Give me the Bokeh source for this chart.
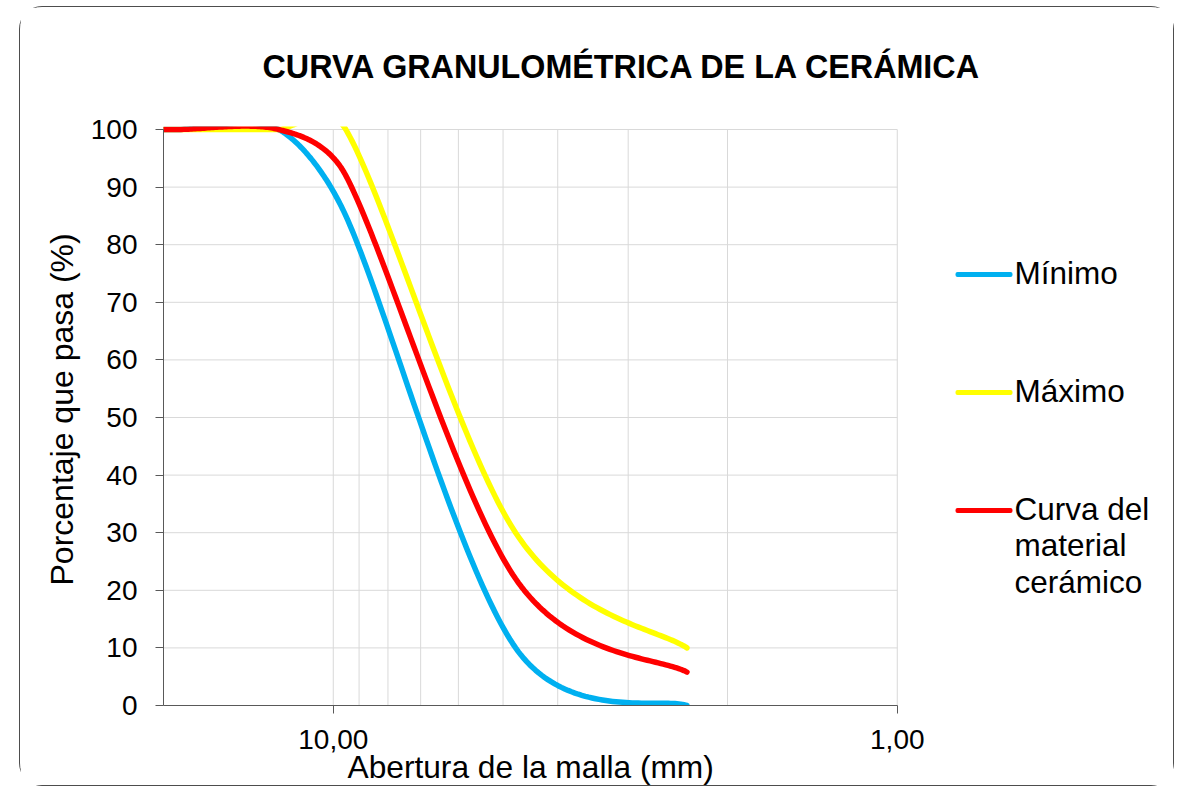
import numpy as np
from bokeh.plotting import figure
from bokeh.models import (Range1d, FixedTicker, CustomJSTickFormatter, Label,
                          BoxAnnotation, Title)
from bokeh.embed import file_html
from bokeh.resources import INLINE

# Sieve openings (mm) and cumulative percentage passing
sieve_mm = [25.0, 19.0, 12.5, 9.5, 4.75, 2.36]
minimo = [100, 100, 100, 85, 10, 0]
maximo = [100, 100, 100, 100, 30, 10]
material = [100, 100, 100, 92, 22, 5.8]

series_names = ["Mínimo", "Máximo", "Curva del\nmaterial\ncerámico"]
series_colors = ["#00B0F0", "#FFFF00", "#FF0000"]

y_ticks = list(range(0, 101, 10))
x_major_ticks = [10, 1]
x_minor_ticks = [9, 8, 7, 6, 5, 4, 3, 2]

FONT = "Liberation Sans"

# canvas / frame geometry (pixels)
W, H = 1153, 778
LEFT, RIGHT, TOP, BOTTOM = 143, 0, 119, 80
PX_DECADE = 564.0          # pixels per decade on the x axis
PX_PCT = 5.76              # pixels per percentage point
X_MAX, Y_MIN, Y_MAX = 20.0, 0.0, 100.0
frame_w = W - LEFT - RIGHT
frame_h = H - TOP - BOTTOM
x_end = X_MAX / 10 ** (frame_w / PX_DECADE)
y_top = Y_MIN + frame_h / PX_PCT


def smooth(xs, ys, n=60):
    """Bezier smoothing of a polyline (spreadsheet style), built in pixel space."""
    P = np.column_stack([-np.log10(np.asarray(xs, float)) * PX_DECADE,
                         np.asarray(ys, float) * PX_PCT])
    m = len(P)
    out = []
    t = np.linspace(0, 1, n)[:, None]
    for i in range(m - 1):
        p0 = P[i - 1] if i > 0 else P[i]
        p1, p2 = P[i], P[i + 1]
        p3 = P[i + 2] if i + 2 < m else P[i + 1]
        d02 = np.hypot(*(p2 - p0))
        d12 = np.hypot(*(p2 - p1))
        d13 = np.hypot(*(p3 - p1))
        if d02 / 6 < d12 / 2 and d13 / 6 < d12 / 2:
            f1 = 1 / 6 if i > 0 else 1 / 3
            f2 = 1 / 6 if i + 2 < m else 1 / 3
        elif d02 / 6 >= d12 / 2 and d13 / 6 >= d12 / 2:
            f1 = d12 / 2 / d02
            f2 = d12 / 2 / d13
        elif d02 / 6 >= d12 / 2:
            f1 = d12 / 2 / d02
            f2 = d12 / 2 / d02
        else:
            f1 = d12 / 2 / d13
            f2 = d12 / 2 / d13
        c1 = p1 + (p2 - p0) * f1
        c2 = p2 - (p3 - p1) * f2
        seg = ((1 - t) ** 3) * p1 + 3 * ((1 - t) ** 2) * t * c1 \
            + 3 * (1 - t) * (t ** 2) * c2 + (t ** 3) * p2
        out.append(seg if i == 0 else seg[1:])
    out = np.vstack(out)
    return 10 ** (-out[:, 0] / PX_DECADE), out[:, 1] / PX_PCT


p = figure(width=W, height=H, x_axis_type="log",
           x_range=Range1d(X_MAX, x_end), y_range=Range1d(Y_MIN, y_top),
           output_backend="svg", toolbar_location=None,
           min_border_left=LEFT, min_border_right=RIGHT,
           min_border_top=TOP, min_border_bottom=BOTTOM)
p.margin = (7, 0, 0, 20)
p.styles = {"outline": "1.4px solid #4D4D4D", "border-radius": "22px"}
p.outline_line_color = None
p.background_fill_color = "white"
p.border_fill_color = "white"
p.xgrid.visible = False
p.ygrid.visible = False

# grid lines limited to the data window
GRID = "#D9D9D9"
vx = x_major_ticks + x_minor_ticks
p.segment(x0=vx, x1=vx, y0=[Y_MIN] * len(vx), y1=[Y_MAX] * len(vx),
          line_color=GRID, line_width=1)
hy = y_ticks[1:]
p.segment(x0=[X_MAX] * len(hy), x1=[1] * len(hy), y0=hy, y1=hy,
          line_color=GRID, line_width=1)

AX = "#595959"
p.xaxis.ticker = FixedTicker(ticks=x_major_ticks)
p.yaxis.ticker = FixedTicker(ticks=y_ticks)
p.xaxis.bounds = (1, X_MAX)
p.yaxis.bounds = (Y_MIN, Y_MAX)
for ax in (p.xaxis[0], p.yaxis[0]):
    ax.axis_line_color = AX
    ax.major_tick_line_color = AX
    ax.major_tick_out = 8
    ax.major_tick_in = 0
    ax.minor_tick_line_color = None
    ax.major_label_text_font = FONT
    ax.major_label_text_font_size = "28px"
    ax.major_label_text_color = "black"
p.xaxis.formatter = CustomJSTickFormatter(
    code="return tick.toFixed(2).replace('.', ',');")
p.xaxis.major_label_standoff = 16
p.yaxis.major_label_standoff = 18

# curves
for ys, col in zip([minimo, maximo, material], series_colors):
    sx, sy = smooth(sieve_mm, ys)
    p.line(sx, sy, line_width=5.5, line_color=col,
           line_cap="round", line_join="round")

# titles
p.title.text = "CURVA GRANULOMÉTRICA DE LA CERÁMICA"
p.title.align = "left"
p.title.offset = 99
p.title.vertical_align = "top"
p.title.standoff = 80
p.title.text_font = FONT
p.title.text_font_size = "32.3px"
p.title.text_font_style = "bold"
p.title.text_color = "black"

p.add_layout(Title(text="Porcentaje que pasa (%)", align="left", offset=120,
                   vertical_align="bottom", standoff=16, text_font=FONT,
                   text_font_size="32px", text_font_style="normal",
                   text_color="black"), "left")
p.add_layout(Title(text="Abertura de la malla (mm)", align="left", offset=184,
                   vertical_align="top", standoff=-5, text_font=FONT,
                   text_font_size="31.7px", text_font_style="normal",
                   text_color="black"), "below")

# legend
key_y = [267, 385, 503]
for name, col, cy in zip(series_names, series_colors, key_y):
    p.add_layout(BoxAnnotation(left=935, right=992, top=cy - 2.5,
                               bottom=cy + 2.5,
                               left_units="canvas", right_units="canvas",
                               top_units="canvas", bottom_units="canvas",
                               fill_color=col, fill_alpha=1,
                               line_color=None, border_radius=2))
    for k, line in enumerate(name.split("\n")):
        p.add_layout(Label(x=994, y=cy - 1.7 + 36.5 * k,
                           x_units="canvas", y_units="canvas", text=line,
                           text_font=FONT, text_font_size="31.5px",
                           text_align="left", text_baseline="alphabetic",
                           text_color="black"))

open("out.html", "w").write(file_html(p, INLINE))
